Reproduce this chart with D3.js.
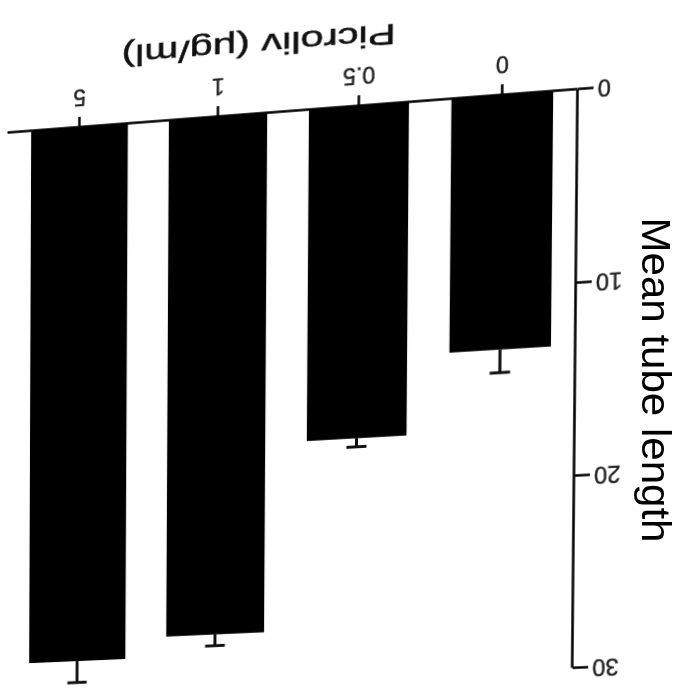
<!DOCTYPE html>
<html>
<head>
<meta charset="utf-8">
<script src="https://cdn.jsdelivr.net/npm/d3@7"></script>
<style>
    html, body { margin: 0; padding: 0; background: #ffffff; }
    #stage { position: relative; width: 695px; height: 698px; overflow: hidden; background: #ffffff; }
    #chart-wrap { position: absolute; left: 0; top: 0; width: 780px; height: 780px; transform-origin: 0 0; filter: blur(0.4px); }
    #chart-wrap svg, #overlay { display: block; overflow: visible; }
    #overlay { position: absolute; left: 0; top: 0; pointer-events: none; }
</style>
</head>
<body>
<div id="stage">
    <div id="chart-wrap"></div>
</div>
<script>
const categories = ['0', '0.5', '1', '5'];
const meanLength = [13.2, 17.4, 27.4, 28.5];
const errLength = [1.2, 0.45, 0.6, 1.15];
const yTicks = [0, 10, 20, 30];

const xTitle = 'Picroliv (μg/ml)';
const yTitle = 'Mean tube length';

const rows = categories.map((c, i) => ({ cat: c, mean: meanLength[i], err: errLength[i] }));

// upright chart in its own frame; the photo is warped onto the page afterwards
const margin = { top: 71, left: 100 };
const plotW = 570;
const plotH = 579;
const font = '"Liberation Sans", Arial, sans-serif';

const xScale = d3.scaleBand()
    .domain(categories)
    .range([0, plotW])
    .paddingInner(0.296)
    .paddingOuter(0.17);

const yScale = d3.scaleLinear()
    .domain([0, 30])
    .range([plotH, 0]);

const svg = d3.select('#chart-wrap')
    .append('svg')
    .attr('width', 780)
    .attr('height', 780);

const g = svg.append('g')
    .attr('transform', `translate(${margin.left},${margin.top})`);

g.selectAll('rect.bar')
    .data(rows)
    .join('rect')
    .attr('class', 'bar')
    .attr('x', (d) => xScale(d.cat))
    .attr('width', xScale.bandwidth())
    .attr('y', (d) => yScale(d.mean))
    .attr('height', (d) => yScale(0) - yScale(d.mean))
    .attr('fill', '#000');

// error bars, one-sided
const eb = g.selectAll('g.err')
    .data(rows)
    .join('g')
    .attr('class', 'err')
    .attr('transform', (d) => `translate(${xScale(d.cat) + xScale.bandwidth() / 2},0)`);

eb.append('line')
    .attr('y1', (d) => yScale(d.mean))
    .attr('y2', (d) => yScale(d.mean + d.err))
    .attr('stroke', '#111')
    .attr('stroke-width', 3);

eb.append('line')
    .attr('x1', -10)
    .attr('x2', 10)
    .attr('y1', (d) => yScale(d.mean + d.err))
    .attr('y2', (d) => yScale(d.mean + d.err))
    .attr('stroke', '#111')
    .attr('stroke-width', 3);

g.append('g')
    .attr('class', 'x-axis')
    .attr('transform', `translate(0,${plotH})`)
    .call(d3.axisBottom(xScale).tickSize(11).tickSizeOuter(0).tickPadding(12));

g.append('g')
    .attr('class', 'y-axis')
    .call(d3.axisLeft(yScale).tickValues(yTicks).tickSize(15).tickSizeOuter(0).tickPadding(4));

g.selectAll('.x-axis path, .x-axis line, .y-axis path, .y-axis line')
    .attr('stroke', '#000')
    .attr('stroke-width', 2.5);

g.selectAll('.x-axis text, .y-axis text')
    .attr('font-family', font)
    .attr('font-size', 23)
    .attr('fill', '#222')
    .attr('stroke', '#222')
    .attr('stroke-width', 0.4);

g.append('text')
    .attr('x', 316)
    .attr('y', plotH + 80)
    .attr('text-anchor', 'middle')
    .attr('font-family', font)
    .attr('font-size', 30)
    .attr('textLength', 275)
    .attr('lengthAdjust', 'spacingAndGlyphs')
    .attr('fill', '#111')
    .attr('stroke', '#111')
    .attr('stroke-width', 0.5)
    .text(xTitle);

// homography from the upright plot corners to where they sit in the picture
function solveHomography(src, dst) {
    const A = [];
    const b = [];
    src.forEach(([u, v], i) => {
        const [x, y] = dst[i];
        A.push([u, v, 1, 0, 0, 0, -u * x, -v * x]); b.push(x);
        A.push([0, 0, 0, u, v, 1, -u * y, -v * y]); b.push(y);
    });
    const n = 8;
    for (let c = 0; c < n; c++) {
        let p = c;
        for (let r = c + 1; r < n; r++) if (Math.abs(A[r][c]) > Math.abs(A[p][c])) p = r;
        [A[c], A[p]] = [A[p], A[c]];
        [b[c], b[p]] = [b[p], b[c]];
        for (let r = 0; r < n; r++) {
            if (r === c) continue;
            const f = A[r][c] / A[c][c];
            for (let k = c; k < n; k++) A[r][k] -= f * A[c][k];
            b[r] -= f * b[c];
        }
    }
    return b.map((v, i) => v / A[i][i]);
}

const x0 = margin.left, x1 = margin.left + plotW;
const yTop = margin.top, yBase = margin.top + plotH;
const h = solveHomography(
    [[x0, yBase], [x1, yBase], [x0, yTop], [x1, yTop]],
    [[578, 89.5], [8, 133], [572.7, 668.3], [6, 692]]
);
document.getElementById('chart-wrap').style.transform =
    `matrix3d(${h[0]},${h[3]},0,${h[6]},${h[1]},${h[4]},0,${h[7]},0,0,1,0,${h[2]},${h[5]},0,1)`;

// y title sits straight on the page
const overlay = d3.select('#stage')
    .append('svg')
    .attr('id', 'overlay')
    .attr('width', 695)
    .attr('height', 698);

overlay.append('text')
    .attr('transform', 'translate(642,380) rotate(90)')
    .attr('text-anchor', 'middle')
    .attr('font-family', font)
    .attr('font-size', 40)
    .attr('textLength', 325)
    .attr('lengthAdjust', 'spacingAndGlyphs')
    .attr('fill', '#000')
    .text(yTitle);
</script>
</body>
</html>
